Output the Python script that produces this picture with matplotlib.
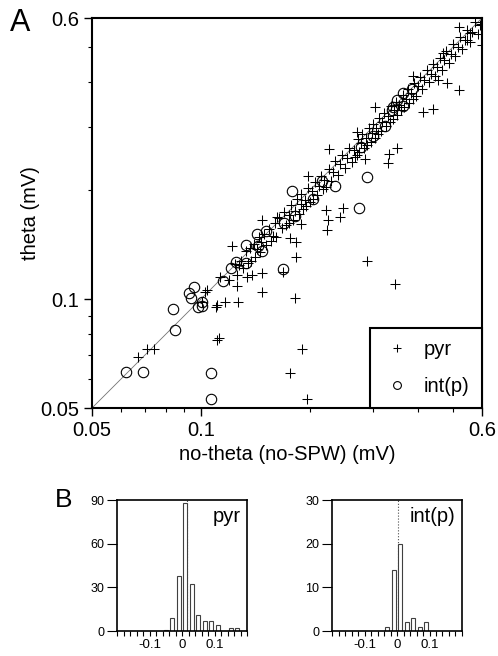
import numpy as np
import matplotlib
matplotlib.use("Agg")
import matplotlib.pyplot as plt

plt.rcParams['font.family'] = ['Liberation Sans', 'DejaVu Sans']

# --- panel A: theta vs no-theta amplitude (mV) ---
pyr_xy = [
    # off-diagonal points
    (0.067, 0.069), (0.071, 0.073), (0.074, 0.073), (0.111, 0.077), (0.112, 0.078),
    (0.104, 0.106), (0.103, 0.105), (0.101, 0.098), (0.110, 0.095), (0.111, 0.0965),
    (0.117, 0.098), (0.127, 0.098), (0.126, 0.109), (0.134, 0.115), (0.113, 0.115),
    (0.128, 0.124), (0.122, 0.140), (0.148, 0.105), (0.148, 0.118), (0.139, 0.117),
    (0.169, 0.119), (0.182, 0.101), (0.184, 0.131), (0.289, 0.128), (0.345, 0.110),
    (0.191, 0.073), (0.177, 0.0625), (0.197, 0.053), (0.184, 0.144), (0.190, 0.162),
    (0.177, 0.148), (0.148, 0.166), (0.163, 0.169), (0.198, 0.219), (0.222, 0.177),
    (0.225, 0.166), (0.224, 0.155), (0.247, 0.179), (0.243, 0.169), (0.226, 0.260),
    (0.270, 0.250), (0.285, 0.245), (0.329, 0.238), (0.331, 0.252), (0.349, 0.262),
    (0.303, 0.340), (0.270, 0.290), (0.411, 0.329), (0.438, 0.336), (0.520, 0.379),
    (0.480, 0.397), (0.453, 0.404), (0.600, 0.505), (0.386, 0.414), (0.468, 0.480),
    (0.520, 0.565), (0.556, 0.544), (0.593, 0.573), (0.547, 0.520),
    # along the diagonal
    (0.120, 0.113), (0.124, 0.125), (0.126, 0.117), (0.129, 0.128), (0.131, 0.122),
    (0.133, 0.136), (0.135, 0.126), (0.137, 0.139), (0.138, 0.128), (0.140, 0.142),
    (0.141, 0.131), (0.143, 0.138), (0.145, 0.149), (0.146, 0.135), (0.147, 0.144),
    (0.150, 0.152), (0.152, 0.141), (0.154, 0.156), (0.156, 0.145), (0.158, 0.150),
    (0.160, 0.163), (0.162, 0.149),
    (0.165, 0.168), (0.168, 0.157), (0.170, 0.174), (0.172, 0.160), (0.175, 0.171),
    (0.176, 0.163), (0.178, 0.182), (0.180, 0.166), (0.182, 0.176), (0.185, 0.189),
    (0.187, 0.172), (0.189, 0.184), (0.190, 0.195), (0.192, 0.178), (0.194, 0.188),
    (0.196, 0.181), (0.198, 0.203), (0.200, 0.186), (0.203, 0.199), (0.205, 0.190),
    (0.207, 0.211), (0.210, 0.194), (0.212, 0.206), (0.215, 0.220), (0.218, 0.202),
    (0.220, 0.214), (0.222, 0.205), (0.226, 0.229), (0.229, 0.212), (0.232, 0.225),
    (0.236, 0.241), (0.240, 0.221), (0.243, 0.236), (0.246, 0.251), (0.250, 0.231),
    (0.254, 0.246), (0.258, 0.262), (0.262, 0.240), (0.265, 0.258), (0.268, 0.248),
    (0.272, 0.277), (0.275, 0.255), (0.278, 0.270), (0.280, 0.286), (0.283, 0.262),
    (0.286, 0.279), (0.289, 0.268), (0.292, 0.298), (0.295, 0.273), (0.297, 0.289),
    (0.300, 0.306), (0.303, 0.280), (0.306, 0.297), (0.309, 0.286), (0.312, 0.318),
    (0.315, 0.292), (0.318, 0.309),
    (0.322, 0.328), (0.326, 0.301), (0.330, 0.321), (0.333, 0.309), (0.336, 0.343),
    (0.340, 0.316), (0.343, 0.333), (0.346, 0.352), (0.350, 0.324), (0.354, 0.344),
    (0.358, 0.333), (0.362, 0.368), (0.366, 0.340), (0.370, 0.359), (0.374, 0.381),
    (0.378, 0.350), (0.382, 0.371), (0.386, 0.358), (0.390, 0.397), (0.395, 0.366),
    (0.400, 0.388), (0.405, 0.412), (0.410, 0.381), (0.416, 0.404),
    (0.422, 0.430), (0.428, 0.398), (0.434, 0.421), (0.440, 0.448), (0.446, 0.414),
    (0.452, 0.438), (0.458, 0.466), (0.465, 0.431), (0.472, 0.458), (0.478, 0.487),
    (0.485, 0.450), (0.492, 0.477), (0.500, 0.509), (0.507, 0.471), (0.515, 0.499),
    (0.522, 0.531), (0.530, 0.492), (0.538, 0.521), (0.546, 0.556), (0.555, 0.515),
    (0.565, 0.548), (0.575, 0.585), (0.585, 0.543), (0.595, 0.578),
]

int_xy = [
    (0.062, 0.063), (0.069, 0.063), (0.107, 0.0625), (0.107, 0.053), (0.085, 0.082),
    (0.084, 0.094), (0.094, 0.101), (0.093, 0.104), (0.096, 0.108), (0.098, 0.095),
    (0.101, 0.096), (0.101, 0.098), (0.115, 0.112), (0.121, 0.122), (0.125, 0.127),
    (0.133, 0.126), (0.133, 0.141), (0.143, 0.152), (0.144, 0.140), (0.148, 0.136),
    (0.152, 0.154), (0.169, 0.121), (0.170, 0.163), (0.182, 0.170), (0.179, 0.199),
    (0.204, 0.190), (0.216, 0.212), (0.235, 0.206), (0.289, 0.218), (0.274, 0.179),
    (0.278, 0.264), (0.300, 0.283), (0.323, 0.301), (0.338, 0.334), (0.340, 0.340),
    (0.349, 0.355), (0.362, 0.342), (0.362, 0.372), (0.384, 0.381),
]

ax_lim = [0.05, 0.6]
major_ticks = [0.05, 0.1, 0.6]
major_labels = ['0.05', '0.1', '0.6']
minor_ticks = [0.06, 0.07, 0.08, 0.09, 0.2, 0.3, 0.4, 0.5]

# --- panel B: histograms ---
pyr_bins = [-0.05, -0.03, -0.01, 0.01, 0.03, 0.05, 0.07, 0.09, 0.11, 0.15, 0.17]
pyr_counts = [1, 9, 38, 88, 32, 11, 7, 7, 4, 2, 2]
int_bins = [-0.03, -0.01, 0.01, 0.03, 0.05, 0.07, 0.09]
int_counts = [1, 14, 20, 2, 3, 1, 2]
pyr_ref = 0.015
int_ref = 0.002

fig = plt.figure(figsize=(4.98, 6.56), dpi=100)

ax = fig.add_axes([0.1847, 0.378, 0.783, 0.5945])
px, py = zip(*pyr_xy)
ix, iy = zip(*int_xy)
ax.plot(ax_lim, ax_lim, color='0.45', lw=0.6, zorder=1)
ax.plot(px, py, '+', color='k', ms=7.5, mew=0.75, label='pyr', zorder=3)
ax.plot(ix, iy, 'o', mfc='none', mec='k', ms=7.5, mew=0.8, label='int(p)', zorder=2)
ax.set_xscale('log')
ax.set_yscale('log')
ax.set_xlim(ax_lim)
ax.set_ylim(ax_lim)
for axis in (ax.xaxis, ax.yaxis):
    axis.set_major_locator(matplotlib.ticker.FixedLocator(major_ticks))
    axis.set_major_formatter(matplotlib.ticker.FixedFormatter(major_labels))
    axis.set_minor_locator(matplotlib.ticker.FixedLocator(minor_ticks))
    axis.set_minor_formatter(matplotlib.ticker.NullFormatter())
ax.tick_params(which='major', direction='out', length=6, width=1, labelsize=14.5, pad=3)
ax.tick_params(which='minor', direction='out', length=3, width=0.8)
for s in ax.spines.values():
    s.set_linewidth(1.5)
ax.set_xlabel('no-theta (no-SPW) (mV)', fontsize=14.5, labelpad=4)
ax.set_ylabel('theta (mV)', fontsize=14.5, labelpad=0)
leg = ax.legend(loc='lower right', borderaxespad=0, fancybox=False, fontsize=14.5,
                handlelength=1.5, handletextpad=0.6, labelspacing=0.9,
                borderpad=0.6, markerscale=0.75)
leg.get_frame().set_edgecolor('k')
leg.get_frame().set_linewidth(1.5)
leg.get_frame().set_alpha(1)

fig.text(0.04, 0.965, 'A', fontsize=22, ha='center', va='center')
fig.text(0.127, 0.238, 'B', fontsize=19, ha='center', va='center')


def hist_panel(rect, bins, counts, ymax, yticks, name, ref):
    h = fig.add_axes(rect)
    h.bar(bins, counts, width=0.012, color='white', edgecolor='0.25', linewidth=0.8)
    h.axvline(ref, color='0.3', lw=0.8, ls=':', zorder=0)
    h.set_xlim(-0.2, 0.2)
    h.set_ylim(0, ymax)
    h.set_yticks(yticks)
    h.set_xticks([-0.1, 0, 0.1])
    h.set_xticklabels(['-0.1', '0', '0.1'])
    h.set_xticks(np.arange(-0.2, 0.201, 0.02), minor=True)
    h.tick_params(axis='y', direction='out', length=7, width=0.8, labelsize=9, pad=2)
    h.tick_params(axis='x', which='both', direction='out', length=3.5, width=0.8,
                  labelsize=9.5, pad=2)
    for s in h.spines.values():
        s.set_linewidth(1.2)
    h.text(0.95, 0.95, name, transform=h.transAxes, ha='right', va='top', fontsize=14.5)
    return h


hist_panel([0.235, 0.0381, 0.261, 0.1997], pyr_bins, pyr_counts, 90, [0, 30, 60, 90], 'pyr', pyr_ref)
hist_panel([0.6667, 0.0381, 0.261, 0.1997], int_bins, int_counts, 30, [0, 10, 20, 30], 'int(p)', int_ref)

fig.savefig('out.png', dpi=100)
